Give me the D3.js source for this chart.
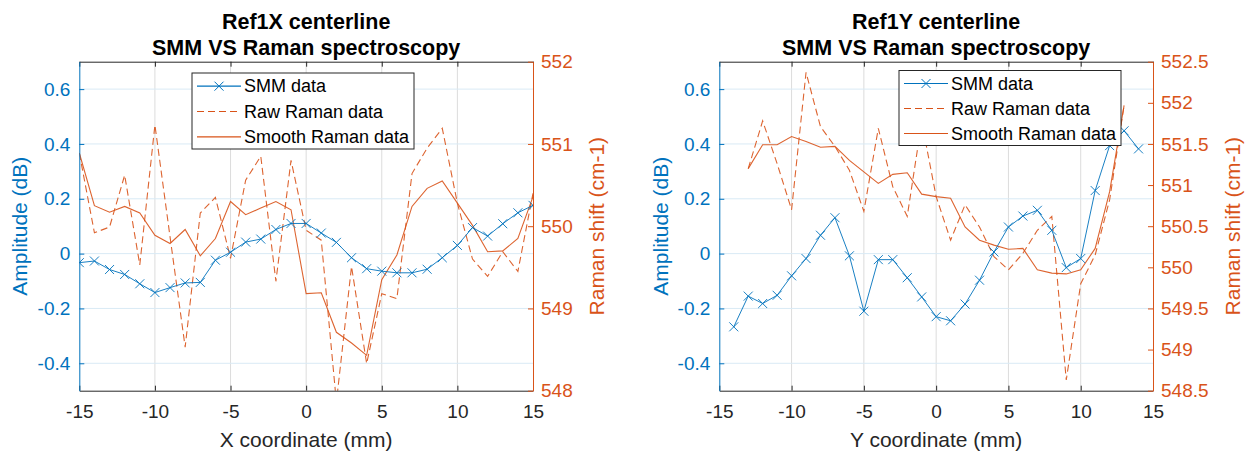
<!DOCTYPE html>
<html>
<head>
<meta charset="utf-8">
<script src="https://cdn.jsdelivr.net/npm/d3@7"></script>
<style>
  html, body { margin: 0; padding: 0; background: #fff; }
  svg { display: block; }
  text { font-family: "Liberation Sans", Arial, Helvetica, sans-serif; }
</style>
</head>
<body>
<svg id="chart" width="1256" height="457"></svg>
<script>
// ---------------- DATA ----------------
const xTicks = [-15, -10, -5, 0, 5, 10, 15];
const ampTicks = [-0.4, -0.2, 0, 0.2, 0.4, 0.6];
const ramanTicksX = [548, 549, 550, 551, 552];
const ramanTicksY = [548.5, 549, 549.5, 550, 550.5, 551, 551.5, 552, 552.5];
const seriesNames = ["SMM data", "Raw Raman data", "Smooth Raman data"];

// Ref1X centerline
const xPosX = [-15,-14,-13,-12,-11,-10,-9,-8,-7,-6,-5,-4,-3,-2,-1,0,1,2,3,4,5,6,7,8,9,10,11,12,13,14,15];
const smmX = [-0.033,-0.027,-0.058,-0.076,-0.110,-0.142,-0.124,-0.107,-0.105,-0.024,0.005,0.042,0.053,0.088,0.110,0.110,0.075,0.041,-0.015,-0.055,-0.064,-0.070,-0.070,-0.057,-0.015,0.030,0.095,0.064,0.109,0.149,0.176];
const rawRamanX = [550.89,549.92,549.99,550.62,549.53,551.23,549.87,548.53,550.16,550.35,549.61,550.56,550.85,549.33,550.80,549.95,549.83,547.86,549.51,548.33,549.18,549.12,550.64,550.95,551.19,550.28,549.60,549.39,549.69,549.45,550.40];
const smoothRamanX = [550.89,550.25,550.17,550.24,550.16,549.89,549.79,549.96,549.64,549.85,550.30,550.14,550.22,550.30,550.20,549.18,549.19,548.71,548.58,548.43,549.35,549.65,550.24,550.46,550.55,550.28,550.01,549.69,549.70,549.85,550.36];

// Ref1Y centerline
const ySmmPos = [-14,-13,-12,-11,-10,-9,-8,-7,-6,-5,-4,-3,-2,-1,0,1,2,3,4,5,6,7,8,9,10,11,12,13,14];
const smmY = [-0.267,-0.155,-0.182,-0.152,-0.081,-0.018,0.067,0.131,-0.008,-0.210,-0.022,-0.022,-0.088,-0.158,-0.230,-0.245,-0.184,-0.097,0.006,0.097,0.137,0.158,0.085,-0.051,-0.018,0.230,0.394,0.448,0.382];
const yRamanPos = [-13,-12,-11,-10,-9,-8,-7,-6,-5,-4,-3,-2,-1,0,1,2,3,4,5,6,7,8,9,10,11,12,13];
const rawRamanY = [551.20,551.78,551.26,550.70,552.37,551.71,551.47,551.18,550.68,551.69,550.98,550.62,551.77,550.86,550.33,550.76,550.49,550.13,549.97,550.17,550.45,550.62,548.63,549.80,550.15,550.82,551.97];
const smoothRamanY = [551.20,551.49,551.49,551.59,551.53,551.46,551.47,551.30,551.16,551.02,551.13,551.15,550.89,550.86,550.84,550.49,550.33,550.27,550.22,550.23,549.97,549.93,549.92,549.97,550.23,550.92,551.97];

// ---------------- STYLE ----------------
const BLUE = "#0072BD", ORANGE = "#D95319", AXGRAY = "#262626";
const TICK_FS = 19, LABEL_FS = 21, TITLE_FS = 21.5, LEG_FS = 18;

const svg = d3.select("#chart");

function panel(opt) {
  const {x0, x1, y0, y1} = opt;
  const g = svg.append("g");
  const x = d3.scaleLinear().domain([-15, 15]).range([x0, x1]);
  const yL = d3.scaleLinear().domain([-0.5, 0.7]).range([y1, y0]);
  const yR = d3.scaleLinear().domain(opt.rDomain).range([y1, y0]);
  const clipId = "clip" + opt.id;
  svg.append("clipPath").attr("id", clipId).append("rect")
    .attr("x", x0).attr("y", y0).attr("width", x1 - x0).attr("height", y1 - y0);

  // grid
  const grid = g.append("g");
  xTicks.forEach(t => {
    if (t === -15 || t === 15) return;
    grid.append("line").attr("x1", x(t)).attr("x2", x(t)).attr("y1", y0).attr("y2", y1)
      .attr("stroke", "#dcdcdc").attr("stroke-width", 1);
  });
  ampTicks.forEach(t => {
    grid.append("line").attr("x1", x0).attr("x2", x1).attr("y1", yL(t)).attr("y2", yL(t))
      .attr("stroke", "#d9eaf5").attr("stroke-width", 1);
  });

  // data
  const data = g.append("g").attr("clip-path", `url(#${clipId})`);
  const lineR = d3.line().x(d => x(d[0])).y(d => yR(d[1]));
  const lineL = d3.line().x(d => x(d[0])).y(d => yL(d[1]));
  const raw = opt.rPos.map((p, i) => [p, opt.raw[i]]);
  const smooth = opt.rPos.map((p, i) => [p, opt.smooth[i]]);
  const smm = opt.sPos.map((p, i) => [p, opt.smm[i]]);

  data.append("path").attr("d", lineR(raw)).attr("fill", "none")
    .attr("stroke", ORANGE).attr("stroke-width", 1.1).attr("stroke-dasharray", "7,4").attr("opacity", 0.9);
  data.append("path").attr("d", lineR(smooth)).attr("fill", "none")
    .attr("stroke", ORANGE).attr("stroke-width", 1.1).attr("opacity", 0.9);
  data.append("path").attr("d", lineL(smm)).attr("fill", "none")
    .attr("stroke", BLUE).attr("stroke-width", 1).attr("opacity", 0.9);
  const m = 4.5;
  data.selectAll("path.mk").data(smm).enter().append("path").attr("class", "mk")
    .attr("d", d => { const cx = x(d[0]), cy = yL(d[1]);
      return `M${cx - m},${cy - m}L${cx + m},${cy + m}M${cx - m},${cy + m}L${cx + m},${cy - m}`; })
    .attr("stroke", BLUE).attr("stroke-width", 1).attr("fill", "none").attr("opacity", 0.9);

  // axes
  const styleAxis = (sel, color, fs) => {
    sel.select(".domain").attr("stroke", color).attr("stroke-width", 1);
    sel.selectAll(".tick line").attr("stroke", color);
    sel.selectAll(".tick text").attr("fill", color).style("font-size", fs + "px")
      .style("font-family", '"Liberation Sans", Arial, sans-serif');
  };
  const hy = s => s.replace("\u2212", "-");
  const ax = g.append("g").attr("transform", `translate(0,${y1})`)
    .call(d3.axisBottom(x).tickValues(xTicks).tickSizeInner(-5).tickSizeOuter(0).tickPadding(14)
      .tickFormat(d => String(d)));
  styleAxis(ax, AXGRAY, TICK_FS);
  const axT = g.append("g").attr("transform", `translate(0,${y0})`)
    .call(d3.axisTop(x).tickValues(xTicks).tickSizeInner(-5).tickSizeOuter(0).tickFormat(""));
  styleAxis(axT, AXGRAY, TICK_FS);
  const ayL = g.append("g").attr("transform", `translate(${x0},0)`)
    .call(d3.axisLeft(yL).tickValues(ampTicks).tickSizeInner(-5).tickSizeOuter(0).tickPadding(9)
      .tickFormat(d => Math.abs(d) < 1e-9 ? "0" : hy(d3.format(".1f")(d))));
  styleAxis(ayL, BLUE, TICK_FS);
  const ayR = g.append("g").attr("transform", `translate(${x1},0)`)
    .call(d3.axisRight(yR).tickValues(opt.rTicks).tickSizeInner(-5).tickSizeOuter(0).tickPadding(8)
      .tickFormat(d => String(+d.toFixed(1))));
  styleAxis(ayR, ORANGE, TICK_FS);

  // titles & labels
  const cx = (x0 + x1) / 2, cy = (y0 + y1) / 2;
  g.append("text").attr("x", cx).attr("y", 29).attr("text-anchor", "middle")
    .style("font-size", TITLE_FS + "px").style("font-weight", "bold").attr("fill", "#000").text(opt.title1);
  g.append("text").attr("x", cx).attr("y", 55).attr("text-anchor", "middle")
    .style("font-size", TITLE_FS + "px").style("font-weight", "bold").attr("fill", "#000").text("SMM VS Raman spectroscopy");
  g.append("text").attr("x", cx).attr("y", 447).attr("text-anchor", "middle")
    .style("font-size", LABEL_FS + "px").attr("fill", AXGRAY).text(opt.xlabel);
  g.append("text").attr("transform", `translate(${opt.ampLabelX},${cy}) rotate(-90)`).attr("dy", "0.35em")
    .attr("text-anchor", "middle").style("font-size", LABEL_FS + "px").attr("fill", BLUE).text("Amplitude (dB)");
  g.append("text").attr("transform", `translate(${opt.ramLabelX},${cy}) rotate(-90)`).attr("dy", "0.35em")
    .attr("text-anchor", "middle").style("font-size", LABEL_FS + "px").attr("fill", ORANGE).text("Raman shift (cm-1)");

  // legend
  const L = opt.legend;
  const lg = g.append("g");
  lg.append("rect").attr("x", L.x).attr("y", L.y).attr("width", L.w).attr("height", L.h)
    .attr("fill", "#fff").attr("stroke", AXGRAY).attr("stroke-width", 1);
  const rowH = (L.h) / 3;
  seriesNames.forEach((name, i) => {
    const ry = L.y + rowH * (i + 0.5) + 0.5;
    const lx0 = L.x + 5, lx1 = L.x + 49;
    const ln = lg.append("line").attr("x1", lx0).attr("x2", lx1).attr("y1", ry).attr("y2", ry)
      .attr("stroke", i === 0 ? BLUE : ORANGE).attr("stroke-width", 1.1);
    if (i === 1) ln.attr("stroke-dasharray", "7,4");
    if (i === 0) {
      const mx = (lx0 + lx1) / 2;
      lg.append("path").attr("d", `M${mx - m},${ry - m}L${mx + m},${ry + m}M${mx - m},${ry + m}L${mx + m},${ry - m}`)
        .attr("stroke", BLUE).attr("stroke-width", 1).attr("fill", "none");
    }
    lg.append("text").attr("x", L.x + 52).attr("y", ry).attr("dy", "0.35em")
      .style("font-size", LEG_FS + "px").attr("fill", "#000").text(name);
  });
}

panel({
  id: "L", x0: 79.3, x1: 533, y0: 61.7, y1: 390.7,
  rDomain: [548, 552], rTicks: ramanTicksX,
  sPos: xPosX, smm: smmX, rPos: xPosX, raw: rawRamanX, smooth: smoothRamanX,
  title1: "Ref1X centerline", xlabel: "X coordinate (mm)",
  ampLabelX: 20, ramLabelX: 597,
  legend: {x: 192, y: 73, w: 222, h: 76}
});
panel({
  id: "R", x0: 719.3, x1: 1153, y0: 61.7, y1: 390.7,
  rDomain: [548.5, 552.5], rTicks: ramanTicksY,
  sPos: ySmmPos, smm: smmY, rPos: yRamanPos, raw: rawRamanY, smooth: smoothRamanY,
  title1: "Ref1Y centerline", xlabel: "Y coordinate (mm)",
  ampLabelX: 661, ramLabelX: 1233,
  legend: {x: 899, y: 70.5, w: 222, h: 75}
});
</script>
</body>
</html>
